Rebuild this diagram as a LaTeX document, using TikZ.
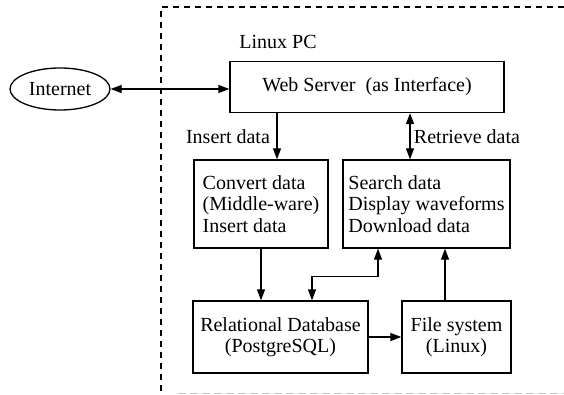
\documentclass[tikz,border=0pt]{standalone}
\usepackage{fontspec}
\setmainfont{Liberation Serif}
\usetikzlibrary{positioning,arrows.meta,shapes.geometric}

\tikzset{
  box/.style={draw, line width=1.3pt, inner sep=4pt},
  arr/.style={-{Triangle[length=11pt,width=8pt]}, line width=1.3pt},
  darr/.style={{Triangle[length=11pt,width=8pt]}-{Triangle[length=11pt,width=8pt]}, line width=1.3pt},
}

\begin{document}
\begin{tikzpicture}[x=1pt,y=-1pt,font=\fontsize{20}{21.5}\selectfont]

\useasboundingbox (0,0) rectangle (564,395);

% PC boundary
\draw[dash pattern=on 6pt off 5pt, line width=1.1pt] (564,7) -- (161,7) -- (161,395);
\draw[gray!45, dash pattern=on 8pt off 4pt, line width=1pt] (178,393) -- (564,393);

\node (linuxpc) at (278,42) {Linux PC};

\node[draw, ellipse, line width=1.3pt, minimum width=100pt, minimum height=42pt, inner sep=0pt] (internet) at (60,89) {Internet};
\node[box, minimum width=274pt, minimum height=51pt] (web) at (367,87) {Web Server\ \ (as Interface)};

\node[box, align=left, minimum width=134pt, minimum height=88pt] (convert) at (261,204) {Convert data\\(Middle-ware)\\Insert data};
\node[box, align=left, minimum width=167pt, minimum height=88pt] (search) at (426.5,204) {Search data\\Display waveforms\\Download data};

\node[box, align=center, minimum width=175pt, minimum height=72pt] (db) at (280.5,337) {Relational Database\\(PostgreSQL)};
\node[box, align=center, minimum width=109pt, minimum height=72pt] (files) at (456.5,337) {File system\\(Linux)};

\node (insertlbl) at (228,137) {Insert data};
\node (retrievelbl) at (467,137) {Retrieve data};

% connections
\draw[darr] (internet.east) -- (internet.east -| web.west);
\draw[arr] ([xshift=16pt]convert.north |- web.south) -- ([xshift=16pt]convert.north);
\draw[darr] ([xshift=-16.5pt]search.north |- web.south) -- ([xshift=-16.5pt]search.north);
\draw[arr] (convert.south) -- (convert.south |- db.north);
\draw[darr] ([xshift=31.5pt]db.north) -- ++(0,-24) -| ([xshift=-48.5pt]search.south);
\draw[arr] (db.east) -- (files.west);
\draw[arr] ([xshift=-11.5pt]files.north) -- ([xshift=-11.5pt]files.north |- search.south);

\end{tikzpicture}
\end{document}
